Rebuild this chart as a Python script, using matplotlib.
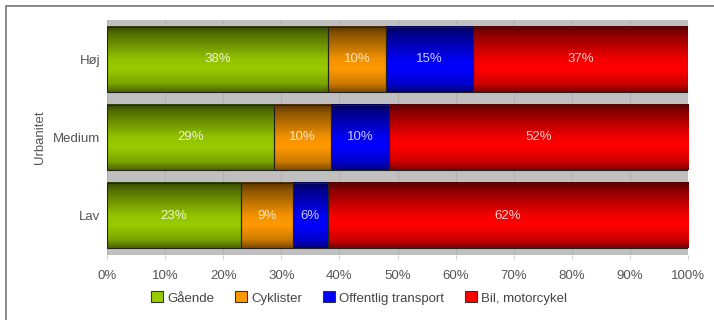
import matplotlib
matplotlib.use("Agg")
import matplotlib.pyplot as plt
import numpy as np
import matplotlib.colors as col
from matplotlib.patches import Rectangle

plt.rcParams['font.family'] = ['Liberation Sans', 'DejaVu Sans']

# Andele (%) pr. urbanitetsniveau
niveauer = ['Høj', 'Medium', 'Lav']
gaaende = [38, 29, 23]
cyklister = [10, 10, 9]
offentlig = [15, 10, 6]
bil = [37, 52, 62]

serier = ['Gående', 'Cyklister', 'Offentlig transport', 'Bil, motorcykel']
farver = ['#99cc00', '#ff9900', '#0000ff', '#ff0000']
tekstfarver = ['#eef5cc', '#ffe6bf', '#ccccff', '#ffcccc']

data = np.array([gaaende, cyklister, offentlig, bil], dtype=float)
andel = data / data.sum(axis=0) * 100  # 100 % stablet

fig = plt.figure(figsize=(7.14, 3.2), dpi=100)
ax = fig.add_axes([107 / 714, 1 - 255 / 320, 581 / 714, 235 / 320])
ax.set_facecolor('#c0c0c0')

y = np.arange(len(niveauer))
h = 0.83

# lodret gradient: mørk i top, lys omkring midten, lidt mørkere i bunden
t = np.linspace(0, 1, 64)
f = np.interp(t, [0, 0.12, 0.5, 0.65, 0.88, 1], [0.35, 0.55, 0.95, 1.0, 0.8, 0.5])

venstre = np.zeros(len(niveauer))
for i, (navn, c) in enumerate(zip(serier, farver)):
    bars = ax.barh(y, andel[i], left=venstre, height=h, facecolor='none',
                   edgecolor='#222222', linewidth=0.8, zorder=4)
    rgb = np.array(col.to_rgb(c))
    grad = (f[:, None] * rgb[None, :])[:, None, :]
    for b, v, val in zip(bars, venstre, data[i]):
        x0, w = b.get_x(), b.get_width()
        yb = b.get_y()
        ax.imshow(grad, extent=(x0, x0 + w, yb + h, yb), origin='upper',
                  aspect='auto', interpolation='bilinear', zorder=3)
        ax.text(x0 + w / 2, yb + h / 2, f'{val:.0f}%', ha='center', va='center',
                color=tekstfarver[i], fontsize=9.5, zorder=5)
    venstre += andel[i]

ax.set_xlim(0, 100)
ax.set_ylim(len(niveauer) - 0.5, -0.5)
ax.set_xticks(np.arange(0, 101, 10))
ax.set_xticklabels([f'{v}%' for v in range(0, 101, 10)])
ax.set_yticks(y)
ax.set_yticklabels(niveauer)
ax.xaxis.grid(True, color='#b2b2b2', linewidth=0.8, zorder=1)
ax.set_axisbelow(True)
for s in ax.spines.values():
    s.set_visible(False)
ax.tick_params(axis='x', length=3, color='#d0d0d0', pad=8, labelcolor='#555555', labelsize=9.5)
ax.tick_params(axis='y', length=0, pad=5, labelcolor='#555555', labelsize=9.5)
ax.set_ylabel('Urbanitet', color='#555555', fontsize=9.5, labelpad=5)

handles = [Rectangle((0, 0), 1, 1, facecolor=c, edgecolor='#333333', linewidth=0.8) for c in farver]
leg = fig.legend(handles, serier, loc='center', bbox_to_anchor=(0.503, 1 - 298 / 320),
                 ncol=4, frameon=False, fontsize=9.5, handlelength=0.9, handleheight=0.9,
                 handletextpad=0.3, columnspacing=1.6)
for txt in leg.get_texts():
    txt.set_color('#444444')

# ramme om hele figuren
fig.patches.append(Rectangle((6 / 714, -0.05), 1.05, 1 - 6 / 320 + 0.05, transform=fig.transFigure,
                             fill=False, edgecolor='#808080', linewidth=1.3, clip_on=False))

fig.savefig('out.png', dpi=100)
